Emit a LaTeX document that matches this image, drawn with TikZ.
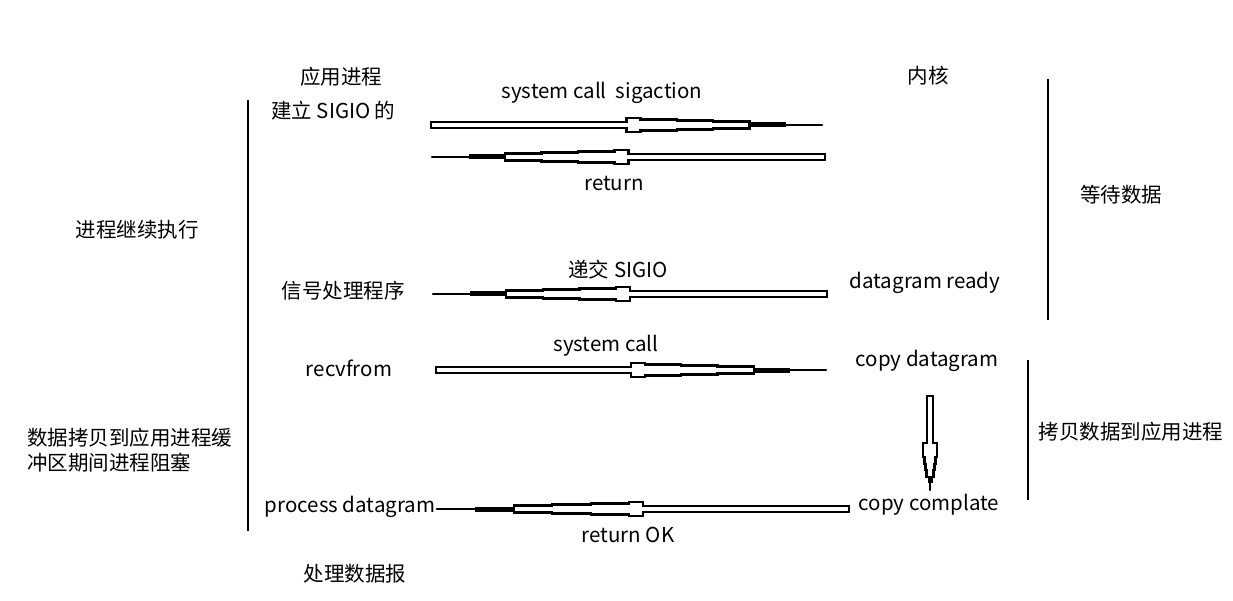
\documentclass[tikz,border=0pt]{standalone}
\usepackage{fontspec}
\setmainfont{Noto Sans CJK SC}
\usetikzlibrary{calc}

\tikzset{
  txt/.style={inner sep=0pt, font=\fontsize{20.5}{25}\selectfont},
  bar/.style={line width=1.8pt},
  pen/.style={draw=black, fill=white, line width=2.2pt, line join=miter},
}

% hollow bar tapering into a thin line: #1 wide end, #2 thin end
\newcommand\pencil[2]{%
  \path let \p1=(#1), \p2=(#2) in
    \pgfextra{\pgfmathparse{veclen(\x2-\x1,\y2-\y1)}\xdef\penLen{\pgfmathresult}%
      \pgfmathparse{atan2(\y2-\y1,\x2-\x1)}\xdef\penAng{\pgfmathresult}};
  \begin{scope}[shift={(#1)}, rotate=\penAng]
    \pgfmathsetmacro\pa{0.5*\penLen}
    \pgfmathsetmacro\pb{\pa+14}
    \pgfmathsetmacro\ps{(\penLen-\pb)/5}
    \pgfmathsetmacro\pc{\pb+\ps}
    \pgfmathsetmacro\pd{\pb+2*\ps}
    \pgfmathsetmacro\pe{\pb+3*\ps}
    \pgfmathsetmacro\pf{\pb+4*\ps}
    \draw[pen] (0,-3) -- (\pa,-3) -- (\pa,-7) -- (\pb,-7) -- (\pb,-5.5)
      -- (\pc,-5.5) -- (\pc,-4.5) -- (\pd,-4.5) -- (\pd,-3.5) -- (\pe,-3.5)
      -- (\pe,3.5) -- (\pd,3.5) -- (\pd,4.5) -- (\pc,4.5) -- (\pc,5.5)
      -- (\pb,5.5) -- (\pb,7) -- (\pa,7) -- (\pa,3) -- (0,3) -- cycle;
    \draw[line width=5pt] (\pe,0) -- (\pf,0);
    \draw[line width=2.5pt, line cap=round] (\pf,0) -- (\penLen,0);
  \end{scope}}

\begin{document}
\begin{tikzpicture}[x=1pt, y=-1pt]
  \useasboundingbox (0,0) rectangle (1233,601);

  % Headers
  \node[txt] (app) at (341,77) {应用进程};
  \node[txt] (kern) at (928,76) {内核};

  % Left column
  \node[txt, anchor=west] (setup) at (271,111) {建立 SIGIO 的};
  \node[txt] (handler) at (343,291) {信号处理程序};
  \node[txt] (recv) at (349,368) {recvfrom};
  \node[txt] (proc) at (350,507) {process datagram};
  \node[txt] (done) at (355,574) {处理数据报};

  % Right column
  \node[txt] (ready) at (925,283) {datagram ready};
  \node[txt] (copy) at (927,361) {copy datagram};
  \node[txt] (cplt) at (929,505) {copy complate};

  % Phase labels
  \node[txt] (cont) at (137,230) {进程继续执行};
  \node[txt, anchor=west, align=left] (block) at (27,450)
    {数据拷贝到应用进程缓\\冲区期间进程阻塞};
  \node[txt] (wait) at (1121,195) {等待数据};
  \node[txt] (copying) at (1131,432) {拷贝数据到应用进程};

  % Message labels
  \node[txt] (sigact) at (602,93) {system call\ \ sigaction};
  \node[txt] (ret) at (614,184) {return};
  \node[txt] (deliver) at (618,270) {递交 SIGIO};
  \node[txt] (syscall) at (606,346) {system call};
  \node[txt] (retok) at (628,535) {return OK};

  % Brackets
  \draw[bar] (248,100) -- (248,531);
  \draw[bar] (1048,79) -- (1048,320);
  \draw[bar] (1028,360) -- (1028,500);

  % Arrow ends
  \coordinate (a1w) at (431,125);  \coordinate (a1t) at (822,125);
  \coordinate (a2w) at (825,157);  \coordinate (a2t) at (432,157);
  \coordinate (a3w) at (827,294);  \coordinate (a3t) at (433,294);
  \coordinate (a4w) at (436,370);  \coordinate (a4t) at (826,370);
  \coordinate (a5w) at (849,509);  \coordinate (a5t) at (437,509);
  \coordinate (a6w) at (930,396);  \coordinate (a6t) at (930,490);

  \pencil{a1w}{a1t}
  \pencil{a2w}{a2t}
  \pencil{a3w}{a3t}
  \pencil{a4w}{a4t}
  \pencil{a5w}{a5t}
  \pencil{a6w}{a6t}
\end{tikzpicture}
\end{document}
